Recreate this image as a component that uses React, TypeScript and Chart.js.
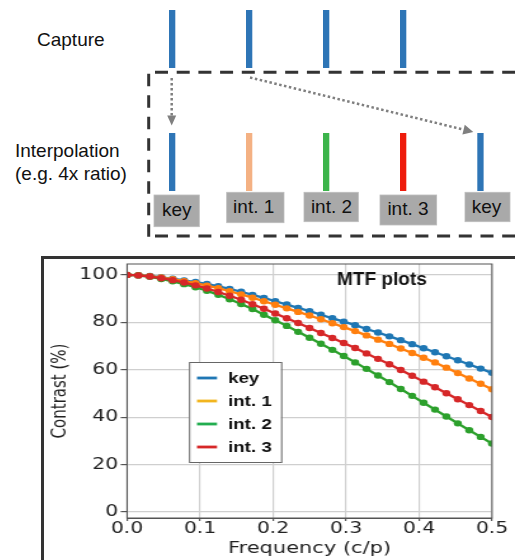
import React, { useEffect, useRef } from "react";
import { Chart, registerables } from "chart.js";

Chart.register(...registerables);

// ---------- chart data ----------
const FREQ = [
  0, 0.0156, 0.0313, 0.0469, 0.0625, 0.0781, 0.0938, 0.1094, 0.125, 0.1406, 0.1563,
  0.1719, 0.1875, 0.2031, 0.2188, 0.2344, 0.25, 0.2656, 0.2813, 0.2969, 0.3125, 0.3281,
  0.3438, 0.3594, 0.375, 0.3906, 0.4063, 0.4219, 0.4375, 0.4531, 0.4688, 0.4844, 0.5,
];
const KEY = [
  100, 99.9, 99.6, 99.0, 98.4, 97.7, 97.0, 96.2, 95.2, 94.1, 92.9, 91.6, 90.3, 88.9, 87.5,
  86.1, 84.7, 83.2, 81.7, 80.3, 78.8, 77.2, 75.7, 74.1, 72.5, 70.8, 69.1, 67.4, 65.7, 64.0,
  62.2, 60.5, 58.7,
];
const INT1 = [
  100, 99.9, 99.5, 98.9, 98.2, 97.4, 96.5, 95.5, 94.4, 93.1, 91.8, 90.4, 88.9, 87.4, 85.9,
  84.4, 82.9, 81.3, 79.6, 78.0, 76.3, 74.5, 72.7, 70.9, 69.0, 67.1, 65.1, 63.1, 60.9, 58.6,
  56.3, 54.1, 51.8,
];
const INT2 = [
  100, 99.8, 99.2, 98.3, 97.3, 96.1, 94.8, 93.3, 91.6, 89.7, 87.7, 85.6, 83.2, 80.9, 78.5,
  76.0, 73.5, 71.0, 68.4, 65.8, 63.1, 60.4, 57.6, 54.8, 51.9, 49.0, 46.1, 43.2, 40.3, 37.4,
  34.5, 31.7, 28.9,
];
const INT3 = [
  100, 99.8, 99.3, 98.6, 97.8, 96.8, 95.6, 94.3, 92.8, 91.2, 89.5, 87.6, 85.7, 83.7, 81.7,
  79.7, 77.6, 75.5, 73.4, 71.3, 69.2, 66.9, 64.6, 62.3, 59.9, 57.5, 55.0, 52.6, 50.1, 47.6,
  45.1, 42.6, 40.1,
];
const SERIES = [KEY, INT1, INT2, INT3];
const SERIES_NAMES = ["key", "int. 1", "int. 2", "int. 3"];
const LINE_COLORS = ["#1f77b4", "#ff7f0e", "#2ca02c", "#d62728"];
const LEGEND_COLORS = ["#1f77b4", "#f2b51e", "#22ad4f", "#d62728"];
const X_TICKS = [0, 0.1, 0.2, 0.3, 0.4, 0.5];
const Y_TICKS = [0, 20, 40, 60, 80, 100];
const CHART_TITLE = "MTF plots";
const X_TITLE = "Frequency (c/p)";
const Y_TITLE = "Contrast (%)";

// ---------- diagram data ----------
const CAPTURE_LABEL = "Capture";
const INTERP_LABEL_1 = "Interpolation";
const INTERP_LABEL_2 = "(e.g. 4x ratio)";
const CAPTURE_BAR_X = [169, 246, 323, 400];
const FRAME_LABELS = ["key", "int. 1", "int. 2", "int. 3", "key"];
const FRAME_COLORS = ["#2e75b6", "#f4b183", "#3cb44b", "#ee1c0c", "#2e75b6"];
const FRAME_BAR_X = [169, 246, 323, 400, 477.3];
const FRAME_BOXES = [
  { x: 154, y: 195, w: 45.3, h: 31.7, tx: 176.7, ty: 216 },
  { x: 226.7, y: 192.3, w: 57.3, h: 30.4, tx: 253.7, ty: 213.3 },
  { x: 304, y: 192.3, w: 54.3, h: 29.4, tx: 331.5, ty: 213.3 },
  { x: 380, y: 195, w: 56.7, h: 30, tx: 408, ty: 215 },
  { x: 465, y: 192.3, w: 45, h: 29.4, tx: 486.5, ty: 213.3 },
];

const S = 471 / 371; // horizontal stretch of the plot image

function arrowHead(x1: number, y1: number, x2: number, y2: number, len: number, half: number) {
  const dx = x2 - x1;
  const dy = y2 - y1;
  const d = Math.hypot(dx, dy);
  const ux = dx / d;
  const uy = dy / d;
  const bx = x2 - ux * len;
  const by = y2 - uy * len;
  return {
    pts: `${x2},${y2} ${bx - uy * half},${by + ux * half} ${bx + uy * half},${by - ux * half}`,
    bx,
    by,
  };
}

const overlayPlugin = {
  id: "overlay",
  afterDatasetsDraw(chart: any) {
    const { ctx, chartArea: a } = chart;
    ctx.save();
    // frame (spines)
    ctx.strokeStyle = "#555";
    ctx.lineWidth = 1;
    ctx.strokeRect(a.left, a.top, a.right - a.left, a.bottom - a.top);

    // title (not stretched)
    ctx.save();
    ctx.translate(a.left + 200.8, a.top + 21);
    ctx.scale(1 / S, 1);
    ctx.font = "bold 19px 'Liberation Sans', Arial, sans-serif";
    ctx.fillStyle = "#111";
    ctx.textAlign = "center";
    ctx.textBaseline = "alphabetic";
    ctx.fillText(CHART_TITLE, 0, 0);
    ctx.restore();

    // legend
    const lx = a.left + 48.8;
    const ly = a.top + 98;
    const lw = 72.5;
    const lh = 100;
    ctx.fillStyle = "#fff";
    ctx.fillRect(lx, ly, lw, lh);
    ctx.strokeStyle = "#666";
    ctx.lineWidth = 1;
    ctx.strokeRect(lx + 0.5, ly + 0.5, lw, lh);
    ctx.font = "bold 14.8px 'Liberation Sans', Arial, sans-serif";
    ctx.textAlign = "left";
    ctx.textBaseline = "middle";
    SERIES_NAMES.forEach((name, i) => {
      const y = ly + 16 + i * 23;
      ctx.strokeStyle = LEGEND_COLORS[i];
      ctx.lineWidth = 2.8;
      ctx.beginPath();
      ctx.moveTo(lx + 6.3, y);
      ctx.lineTo(lx + 22.1, y);
      ctx.stroke();
      ctx.fillStyle = "#111";
      ctx.fillText(name, lx + 30.7, y + 0.5);
    });
    ctx.restore();
  },
};

export default function App() {
  const canvasRef = useRef<HTMLCanvasElement | null>(null);

  useEffect(() => {
    const canvas = canvasRef.current;
    if (!canvas) return;
    const tickFont = { family: "'DejaVu Sans', sans-serif", size: 16, lineHeight: 1 };
    const chart = new Chart(canvas, {
      type: "line",
      data: {
        datasets: SERIES.map((vals, i) => ({
          label: SERIES_NAMES[i],
          data: FREQ.map((x, j) => ({ x, y: vals[j] })),
          borderColor: LINE_COLORS[i],
          backgroundColor: LINE_COLORS[i],
          pointBackgroundColor: LINE_COLORS[i],
          pointBorderColor: LINE_COLORS[i],
          pointBorderWidth: 0,
          pointRadius: 3.2,
          borderWidth: 2.3,
          tension: 0,
          order: 4 - i,
        })),
      },
      options: {
        responsive: false,
        animation: false,
        devicePixelRatio: 1,
        layout: { padding: { left: 0, right: 18.1, top: 5, bottom: 0 } },
        plugins: { legend: { display: false }, tooltip: { enabled: false } },
        scales: {
          x: {
            type: "linear",
            min: 0,
            max: 0.5,
            afterBuildTicks: (s: any) => {
              s.ticks = X_TICKS.map((v) => ({ value: v }));
            },
            afterFit: (s: any) => {
              s.height = 42;
              s.paddingLeft = 0;
              s.paddingRight = 0;
            },
            grid: { color: "#cfcfcf", lineWidth: 1.2, tickLength: 3, tickColor: "#555", drawTicks: true },
            border: { display: true, color: "#555", width: 1 },
            ticks: {
              font: tickFont,
              color: "#222",
              padding: 0,
              maxRotation: 0,
              autoSkip: false,
              callback: (v: any) => Number(v).toFixed(1),
            },
            title: {
              display: true,
              text: X_TITLE,
              font: { family: "'DejaVu Sans', sans-serif", size: 16.5 },
              color: "#222",
              padding: { top: 0, bottom: 1 },
            },
          },
          y: {
            type: "linear",
            min: -2.5,
            max: 104.6,
            afterBuildTicks: (s: any) => {
              s.ticks = Y_TICKS.map((v) => ({ value: v }));
            },
            afterFit: (s: any) => {
              s.width = 65.4;
              s.paddingTop = 0;
              s.paddingBottom = 0;
            },
            grid: { color: "#cfcfcf", lineWidth: 1.2, tickLength: 5, tickColor: "#555", drawTicks: true },
            border: { display: true, color: "#555", width: 1 },
            ticks: {
              font: tickFont,
              color: "#222",
              padding: 2,
              autoSkip: false,
              callback: (v: any) => String(v),
            },
            title: {
              display: true,
              text: Y_TITLE,
              font: { family: "'DejaVu Sans', sans-serif", size: 15 },
              color: "#222",
              padding: { top: 4.4, bottom: 0 },
            },
          },
        },
      },
      plugins: [overlayPlugin],
    } as any);
    return () => chart.destroy();
  }, []);

  const a1 = arrowHead(171.7, 78, 171.7, 125.5, 10, 4.5);
  const a2 = arrowHead(250, 77.5, 473.3, 132, 10, 5);
  const textFont = "'Liberation Sans', Arial, sans-serif";

  return (
    <div
      style={{
        position: "absolute",
        left: 0,
        top: 0,
        width: 515,
        height: 560,
        overflow: "hidden",
        background: "#fff",
      }}
    >
      <svg width={515} height={250} style={{ position: "absolute", left: 0, top: 0 }}>
        <text x={37} y={45.7} fontFamily={textFont} fontSize={19} fill="#111">
          {CAPTURE_LABEL}
        </text>
        <text x={15} y={157.3} fontFamily={textFont} fontSize={19} fill="#111">
          {INTERP_LABEL_1}
        </text>
        <text x={15} y={180} fontFamily={textFont} fontSize={19} fill="#111">
          {INTERP_LABEL_2}
        </text>
        {CAPTURE_BAR_X.map((x, i) => (
          <rect key={"c" + i} x={x} y={10} width={6.3} height={58} fill="#2e75b6" />
        ))}
        {/* dashed frame */}
        <line x1={155} y1={72.3} x2={520} y2={72.3} stroke="#333" strokeWidth={3} strokeDasharray="13 8.7" />
        <line x1={148.7} y1={73.7} x2={148.7} y2={237} stroke="#333" strokeWidth={3} strokeDasharray="12.5 9" />
        <line x1={155} y1={236} x2={520} y2={236} stroke="#333" strokeWidth={3} strokeDasharray="13 8.7" />
        {/* arrows */}
        <line x1={171.7} y1={78} x2={a1.bx} y2={a1.by} stroke="#7f7f7f" strokeWidth={2.5} strokeDasharray="2.5 2.5" />
        <polygon points={a1.pts} fill="#7f7f7f" />
        <line x1={250} y1={77.5} x2={a2.bx} y2={a2.by} stroke="#7f7f7f" strokeWidth={2.5} strokeDasharray="2.5 2.5" />
        <polygon points={a2.pts} fill="#7f7f7f" />
        {FRAME_BAR_X.map((x, i) => (
          <rect key={"f" + i} x={x} y={133} width={6.3} height={58} fill={FRAME_COLORS[i]} />
        ))}
        {FRAME_BOXES.map((b, i) => (
          <g key={"b" + i}>
            <rect x={b.x} y={b.y} width={b.w} height={b.h} fill="#a9a9a9" stroke="#bdbdbd" strokeWidth={0.8} />
            <text x={b.tx} y={b.ty} fontFamily={textFont} fontSize={19} fill="#111" textAnchor="middle">
              {FRAME_LABELS[i]}
            </text>
          </g>
        ))}
      </svg>
      <div
        style={{
          position: "absolute",
          left: 41,
          top: 256,
          width: 500,
          height: 320,
          borderLeft: "3px solid #333",
          borderTop: "3px solid #333",
          boxSizing: "border-box",
        }}
      />
      <canvas
        ref={canvasRef}
        width={371}
        height={301}
        style={{ position: "absolute", left: 44, top: 259, width: "471px", height: "301px" }}
      />
    </div>
  );
}
